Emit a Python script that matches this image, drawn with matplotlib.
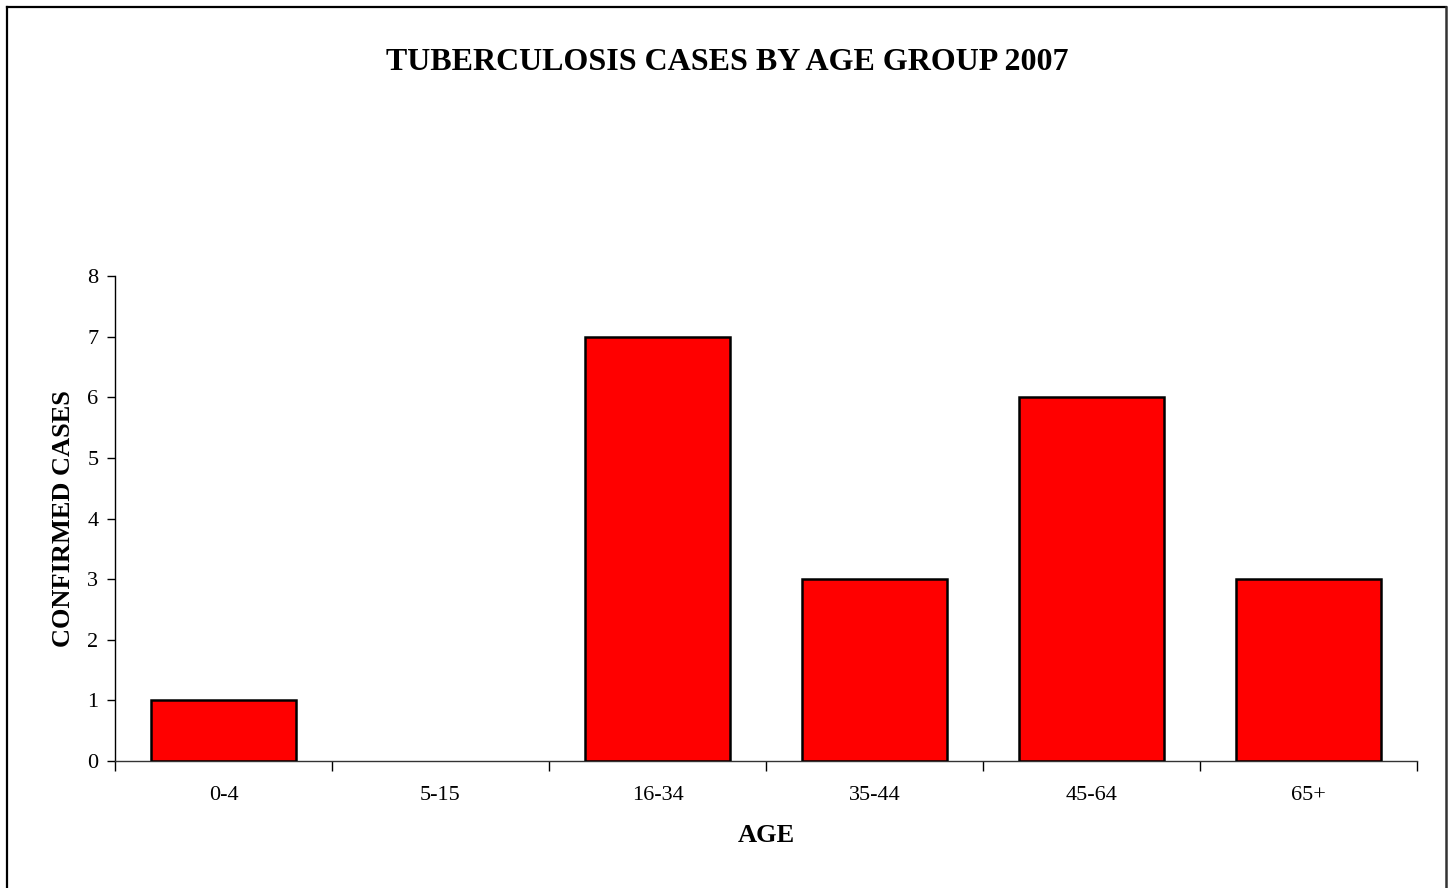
import matplotlib
matplotlib.use("Agg")
import matplotlib.pyplot as plt
from matplotlib.lines import Line2D
import numpy as np

plt.rcParams['font.family'] = ['Liberation Serif', 'DejaVu Serif']

categories = ["0-4", "5-15", "16-34", "35-44", "45-64", "65+"]
cases = [1, 0, 7, 3, 6, 3]
yticks = [0, 1, 2, 3, 4, 5, 6, 7, 8]

W, H = 1454, 888
fig = plt.figure(figsize=(W / 100, H / 100), dpi=100)
fig.patch.set_facecolor("white")

# outer frame (bottom edge falls outside the picture)
def fx(px):
    return px / W

def fy(py):
    return 1 - py / H

fig.add_artist(Line2D([fx(7), fx(7)], [fy(7), fy(900)], transform=fig.transFigure,
                      color="black", linewidth=1.6))
fig.add_artist(Line2D([fx(7), fx(1446)], [fy(7), fy(7)], transform=fig.transFigure,
                      color="black", linewidth=1.6))
fig.add_artist(Line2D([fx(1446), fx(1446)], [fy(7), fy(900)], transform=fig.transFigure,
                      color="#333333", linewidth=1.8))

left, right, top, bottom = 115, 1417, 276, 761
ax = fig.add_axes([left / W, 1 - bottom / H, (right - left) / W, (bottom - top) / H])

x = np.arange(len(categories))
edges = ["black" if v > 0 else "none" for v in cases]
ax.bar(x, cases, width=0.667, color="#FF0000", edgecolor=edges, linewidth=1.8, zorder=3)

ax.set_xlim(-0.5, len(categories) - 0.5)
ax.set_ylim(0, 8)
ax.set_yticks(yticks)
ax.set_yticklabels([str(v) for v in yticks], fontsize=16)
ax.set_xticks(x)
ax.set_xticklabels(categories, fontsize=16)
ax.tick_params(axis="x", which="major", length=0, pad=18)
ax.set_xticks(np.arange(-0.5, len(categories)), minor=True)
ax.tick_params(axis="x", which="minor", length=7, width=1, direction="out", color="black")
ax.tick_params(axis="y", length=6, width=1, direction="out", pad=6)

for s in ["top", "right"]:
    ax.spines[s].set_visible(False)
ax.spines["left"].set_linewidth(1)
ax.spines["bottom"].set_linewidth(1)
ax.spines["bottom"].set_color("#333333")

ax.set_xlabel("AGE", fontsize=19, fontweight="bold", va="center")
ax.xaxis.set_label_coords(0.5, -(835 - bottom) / (bottom - top))
ax.set_ylabel("CONFIRMED CASES", fontsize=19, fontweight="bold", va="center")
ax.yaxis.set_label_coords(-(left - 63) / (right - left), 0.5)

fig.text(0.5, fy(63), "TUBERCULOSIS CASES BY AGE GROUP 2007",
         ha="center", va="center", fontsize=23, fontweight="bold")

fig.savefig("out.png", dpi=100, facecolor="white")
